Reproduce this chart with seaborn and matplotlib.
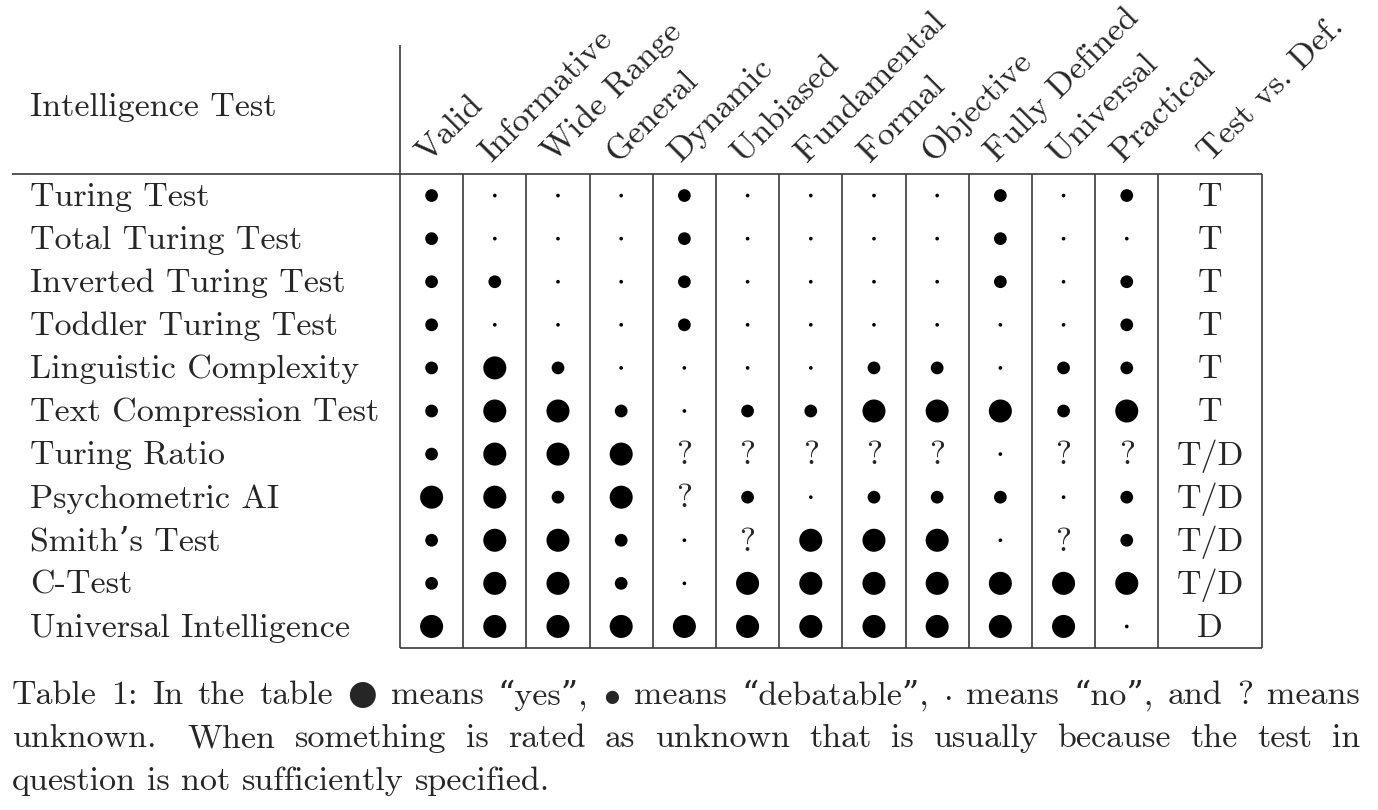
import numpy as np
import pandas as pd
import matplotlib
matplotlib.use('Agg')
import matplotlib.pyplot as plt
import matplotlib.transforms as mtransforms
import seaborn as sns

tests = ['Turing Test', 'Total Turing Test', 'Inverted Turing Test', 'Toddler Turing Test',
         'Linguistic Complexity', 'Text Compression Test', 'Turing Ratio', 'Psychometric AI',
         "Smith\u2019s Test", 'C-Test', 'Universal Intelligence']
props = ['Valid', 'Informative', 'Wide Range', 'General', 'Dynamic', 'Unbiased',
         'Fundamental', 'Formal', 'Objective', 'Fully Defined', 'Universal', 'Practical']
last_col = 'Test vs. Def.'
# Y = yes (big dot), D = debatable, N = no, ? = unknown
ratings = ['DNNNDNNNNDND',
           'DNNNDNNNNDNN',
           'DDNNDNNNNDND',
           'DNNNDNNNNNND',
           'DYDNNNNDDNDD',
           'DYYDNDDYYYDY',
           'DYYY?????N??',
           'YYDY?DNDDDND',
           'DYYDN?YYYN?D',
           'DYYDNYYYYYYY',
           'YYYYYYYYYYYN']
test_vs_def = ['T', 'T', 'T', 'T', 'T', 'T', 'T/D', 'T/D', 'T/D', 'T/D', 'D']
caption = [('Table 1: In the table \u25CF means \u201Cyes\u201D, $\\bullet$ means \u201Cdebatable\u201D, '
            '$\\cdot$ means \u201Cno\u201D, and ? means', True),
           ('unknown.  When something is rated as unknown that is usually because the test in', True),
           ('question is not sufficiently specified.', False)]

W, H = 1378, 810
FONT = ['cmr10', 'DejaVu Serif']
FS = 24.5
LINE = '#3a3a3a'

sns.set_theme(style='white')
plt.rcParams['axes.formatter.use_mathtext'] = True
plt.rcParams['mathtext.fontset'] = 'cm'
plt.rcParams['font.family'] = FONT

fig = plt.figure(figsize=(W / 100, H / 100), dpi=100, facecolor='white')

# grid axes: the cells of the table
gx0, gx1, gy0, gy1 = 400, 1262, 174, 648
ax = fig.add_axes([gx0 / W, 1 - gy1 / H, (gx1 - gx0) / W, (gy1 - gy0) / H])

last_w = 1.64
x_edges = list(np.arange(len(props) + 1) - 0.5) + [len(props) - 0.5 + last_w]

long = pd.DataFrame([(p, t, r[j]) for t, r in zip(tests, ratings) for j, p in enumerate(props)],
                    columns=['prop', 'test', 'rating'])
dots = long[long['rating'] != '?']
sns.scatterplot(data=dots, x='prop', y='test', size='rating',
                sizes={'Y': 275, 'D': 84, 'N': 7}, color='black', linewidth=0,
                legend=False, ax=ax, clip_on=False)
ax.set_xlim(x_edges[0], x_edges[-1])
ax.set_ylim(len(tests) - 0.5, -0.5)
ax.set_axis_off()

for _, row in long[long['rating'] == '?'].iterrows():
    ax.text(props.index(row['prop']), tests.index(row['test']) + 0.04, '?',
            ha='center', va='center', fontsize=FS, family=FONT)

last_c = len(props) - 0.5 + last_w / 2
for i, v in enumerate(test_vs_def):
    ax.text(last_c, i + 0.04, v, ha='center', va='center', fontsize=FS, family=FONT)

# cell rules
ax.vlines(x_edges[1:], -0.5, len(tests) - 0.5, color=LINE, lw=1.2, clip_on=False)
px_row = (gy1 - gy0) / len(tests)
ax.vlines(x_edges[0], -0.5 - (gy0 - 45) / px_row, len(tests) - 0.5, color=LINE, lw=1.2, clip_on=False)
ax.hlines(len(tests) - 0.5, x_edges[0], x_edges[-1], color=LINE, lw=1.2, clip_on=False)
line_ax = fig.add_axes([0, 0, 1, 1], zorder=-1)
line_ax.set_xlim(0, W)
line_ax.set_ylim(H, 0)
line_ax.set_axis_off()
line_ax.hlines(gy0, 12, gx1, color=LINE, lw=1.2)

# rotated column headers
for j, p in enumerate(props + [last_col]):
    xc = j - 0.06 if j < len(props) else last_c
    ax.text(xc, -0.5 - 0.25, p, rotation=45, rotation_mode='anchor',
            ha='left', va='baseline', fontsize=FS, family=FONT, clip_on=False)

# row labels
trans = mtransforms.blended_transform_factory(fig.transFigure, ax.transData)
for i, t in enumerate(tests):
    ax.text(30 / W, i + 0.04, t, transform=trans, ha='left', va='center',
            fontsize=FS, family=FONT)
line_ax.text(30, 107, 'Intelligence Test', ha='left', va='center', fontsize=FS, family=FONT)

# caption, justified like the LaTeX paragraph
renderer = fig.canvas.get_renderer()
for k, (line, justify) in enumerate(caption):
    y = 704.5 + k * 42.5
    words = line.replace('.  ', '.\u0000').replace(' ', '\u0001').split('\u0001')
    objs, widths, weights = [], [], []
    for w in words:
        parts = w.split('\u0000')
        for m, part in enumerate(parts):
            o = line_ax.text(0, y, part, ha='left', va='baseline', fontsize=FS, family=FONT)
            objs.append(o)
            widths.append(o.get_window_extent(renderer).width)
            weights.append(1.6 if m < len(parts) - 1 else 1.0)
    weights = weights[:-1]
    if justify:
        gap = (1360 - 12 - sum(widths)) / sum(weights)
    else:
        gap = 0.33 * FS * 100 / 72
    x = 12
    for n, (o, w) in enumerate(zip(objs, widths)):
        o.set_x(x)
        if n < len(weights):
            x += w + gap * weights[n]

fig.savefig('out.png', dpi=100, facecolor='white')
